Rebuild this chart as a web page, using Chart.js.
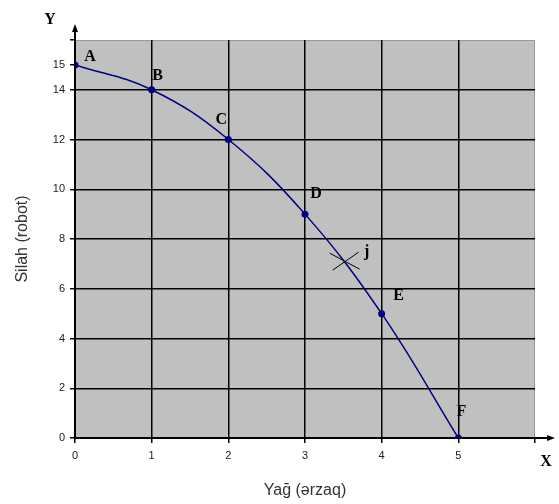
<!DOCTYPE html>
<html>
<head>
<meta charset="utf-8">
<script src="https://cdn.jsdelivr.net/npm/chart.js@4"></script>
<style>
  html, body { margin: 0; padding: 0; background: #fff; }
  #wrap { width: 559px; height: 504px; }
</style>
</head>
<body>
<div id="wrap"><canvas id="chart" width="559" height="504"></canvas></div>
<script>
// Data
const pointNames = ['A', 'B', 'C', 'D', 'E', 'F'];
const xValues = [0, 1, 2, 3, 4, 5];
const yValues = [15, 14, 12, 9, 5, 0];
const jPoint = { x: 3.53, y: 7.15, name: 'j' };
const xTicks = [0, 1, 2, 3, 4, 5, 6];
const yTicks = [0, 2, 4, 6, 8, 10, 12, 14, 15, 16];

// label offsets in pixels (dx, dy) from each point
const labelOffsets = [[15, -8], [6, -14], [-7, -20], [11, -20], [17, -18], [3, -26]];

const curveColor = '#000080';
const letterFont = 'bold 16px "Liberation Serif", "DejaVu Serif", serif';

// gray plot background + frame
const plotBackground = {
  id: 'plotBackground',
  beforeDraw(chart) {
    const { ctx, chartArea: a } = chart;
    ctx.save();
    ctx.fillStyle = '#c0c0c0';
    ctx.fillRect(a.left, a.top, a.right - a.left, a.bottom - a.top);
    ctx.strokeStyle = '#999';
    ctx.lineWidth = 1;
    ctx.strokeRect(a.left + 0.5, a.top + 0.5, a.right - a.left - 1, a.bottom - a.top);
    ctx.restore();
  }
};

// point letters, the j cross, axis letters and arrows
const annotations = {
  id: 'annotations',
  afterDraw(chart) {
    const { ctx, chartArea: a } = chart;
    const xs = chart.scales.x, ys = chart.scales.y;
    ctx.save();
    ctx.fillStyle = '#000';
    ctx.font = letterFont;
    ctx.textAlign = 'center';
    ctx.textBaseline = 'middle';
    pointNames.forEach((n, i) => {
      const px = xs.getPixelForValue(xValues[i]);
      const py = ys.getPixelForValue(yValues[i]);
      ctx.fillText(n, px + labelOffsets[i][0], py + labelOffsets[i][1]);
    });

    // j cross (flat X)
    const jx = xs.getPixelForValue(jPoint.x);
    const jy = ys.getPixelForValue(jPoint.y);
    ctx.strokeStyle = '#000';
    ctx.lineWidth = 1;
    ctx.beginPath();
    ctx.moveTo(jx - 16, jy - 7);
    ctx.lineTo(jx + 14, jy + 9);
    ctx.moveTo(jx - 13, jy + 10);
    ctx.lineTo(jx + 13, jy - 8);
    ctx.stroke();
    ctx.fillText(jPoint.name, jx + 21, jy - 8);

    // axis names
    ctx.fillText('Y', 50, 20);
    ctx.fillText('X', 546, 462);

    // y arrow
    ctx.lineWidth = 2;
    ctx.beginPath();
    ctx.moveTo(a.left, a.top);
    ctx.lineTo(a.left, 28);
    ctx.stroke();
    ctx.beginPath();
    ctx.moveTo(a.left, 24);
    ctx.lineTo(a.left - 3, 32);
    ctx.lineTo(a.left + 3, 32);
    ctx.closePath();
    ctx.fill();

    // x arrow
    ctx.beginPath();
    ctx.moveTo(a.right, a.bottom);
    ctx.lineTo(550, a.bottom);
    ctx.stroke();
    ctx.beginPath();
    ctx.moveTo(555, a.bottom);
    ctx.lineTo(547, a.bottom - 3);
    ctx.lineTo(547, a.bottom + 3);
    ctx.closePath();
    ctx.fill();
    ctx.restore();
  }
};

const ctx = document.getElementById('chart').getContext('2d');
new Chart(ctx, {
  type: 'scatter',
  data: {
    datasets: [{
      data: xValues.map((x, i) => ({ x, y: yValues[i] })),
      showLine: true,
      tension: 0.4,
      borderColor: curveColor,
      borderWidth: 1.5,
      backgroundColor: curveColor,
      pointRadius: 3.5,
      pointBorderWidth: 0
    }]
  },
  plugins: [plotBackground, annotations],
  options: {
    responsive: false,
    animation: false,
    layout: { padding: { top: 40, right: 24, left: 9, bottom: 0 } },
    plugins: {
      legend: { display: false },
      tooltip: { enabled: false }
    },
    scales: {
      x: {
        type: 'linear',
        min: 0,
        max: 6,
        afterFit: s => { s.height = 66; },
        afterBuildTicks: s => { s.ticks = xTicks.map(v => ({ value: v })); },
        ticks: {
          color: '#222',
          font: { family: 'Arial, "Liberation Sans", sans-serif', size: 11 },
          padding: 6,
          callback: v => (v === 6 ? '' : v)
        },
        grid: {
          color: c => (c.tick && c.tick.value < 6 ? '#000' : 'transparent'),
          tickColor: '#000',
          tickLength: 5,
          lineWidth: 1.5
        },
        border: { color: '#000', width: 2 },
        title: {
          display: true,
          text: 'Yağ (ərzaq)',
          color: '#333',
          font: { family: 'Arial, "Liberation Sans", sans-serif', size: 16 },
          padding: { top: 10 }
        }
      },
      y: {
        type: 'linear',
        min: 0,
        max: 16,
        afterFit: s => { s.width = 66; },
        afterBuildTicks: s => { s.ticks = yTicks.map(v => ({ value: v })); },
        ticks: {
          color: '#222',
          font: { family: 'Arial, "Liberation Sans", sans-serif', size: 11 },
          padding: 5,
          callback: v => (v === 16 ? '' : v)
        },
        grid: {
          color: c => (c.tick && c.tick.value % 2 === 0 && c.tick.value < 16 ? '#000' : 'transparent'),
          tickColor: '#000',
          tickLength: 5,
          lineWidth: 1.5
        },
        border: { color: '#000', width: 2 },
        title: {
          display: true,
          text: 'Silah (robot)',
          color: '#333',
          font: { family: 'Arial, "Liberation Sans", sans-serif', size: 16 },
          padding: { bottom: 4 }
        }
      }
    }
  }
});
</script>
</body>
</html>
